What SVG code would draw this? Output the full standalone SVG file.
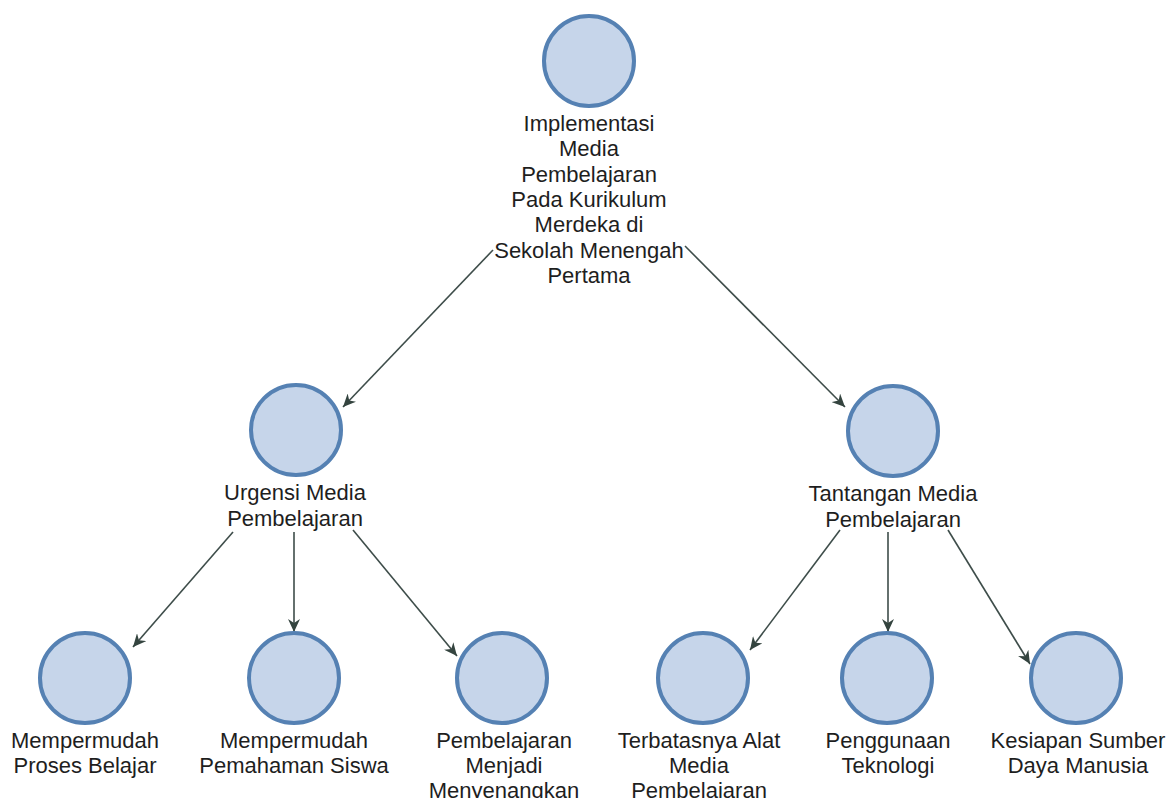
<svg xmlns="http://www.w3.org/2000/svg" width="1168" height="798" viewBox="0 0 1168 798">
<style>
.node circle{fill:#c6d5ea;stroke:#5581b3;stroke-width:4}
.node text{font-family:"Liberation Sans",Arial,sans-serif;font-size:22px;fill:#1e1e1e;text-anchor:middle}
.edge{stroke:#3e4d4a;stroke-width:1.6;fill:none;marker-end:url(#arr)}
</style>
<defs>
<marker id="arr" markerUnits="userSpaceOnUse" markerWidth="14" markerHeight="12" refX="13" refY="6" orient="auto">
<path d="M0,0 L13,6 L0,12 L4,6 z" fill="#34443f"/>
</marker>
</defs>
<rect width="1168" height="798" fill="#ffffff"/>
<g id="connectors">
<line class="edge" x1="493" y1="250" x2="343" y2="407"/>
<line class="edge" x1="685" y1="246" x2="845" y2="407"/>
<line class="edge" x1="233" y1="532" x2="133" y2="647"/>
<line class="edge" x1="294" y1="532" x2="294" y2="632"/>
<line class="edge" x1="353" y1="530" x2="457" y2="656"/>
<line class="edge" x1="840" y1="530" x2="750" y2="650"/>
<line class="edge" x1="888" y1="532" x2="888" y2="632"/>
<line class="edge" x1="948" y1="530" x2="1030" y2="664"/>
</g>
<g id="node-root" class="node">
<circle cx="589" cy="61" r="45"/>
<text x="589" y="131">Implementasi</text>
<text x="589" y="156">Media</text>
<text x="589" y="182">Pembelajaran</text>
<text x="589" y="207">Pada Kurikulum</text>
<text x="589" y="232">Merdeka di</text>
<text x="589" y="258">Sekolah Menengah</text>
<text x="589" y="283">Pertama</text>
</g>
<g id="node-urgensi" class="node">
<circle cx="296" cy="430" r="45"/>
<text x="295" y="500">Urgensi Media</text>
<text x="295" y="526">Pembelajaran</text>
</g>
<g id="node-tantangan" class="node">
<circle cx="893" cy="431" r="45"/>
<text x="893" y="501">Tantangan Media</text>
<text x="893" y="527">Pembelajaran</text>
</g>
<g id="node-proses" class="node">
<circle cx="85" cy="678" r="45"/>
<text x="85" y="748">Mempermudah</text>
<text x="85" y="773">Proses Belajar</text>
</g>
<g id="node-pemahaman" class="node">
<circle cx="294" cy="678" r="45"/>
<text x="294" y="748">Mempermudah</text>
<text x="294" y="773">Pemahaman Siswa</text>
</g>
<g id="node-menyenangkan" class="node">
<circle cx="502" cy="678" r="45"/>
<text x="504" y="748">Pembelajaran</text>
<text x="504" y="773">Menjadi</text>
<text x="504" y="798">Menyenangkan</text>
</g>
<g id="node-terbatas" class="node">
<circle cx="703" cy="678" r="45"/>
<text x="699" y="748">Terbatasnya Alat</text>
<text x="699" y="773">Media</text>
<text x="699" y="798">Pembelajaran</text>
</g>
<g id="node-teknologi" class="node">
<circle cx="887" cy="678" r="45"/>
<text x="888" y="748">Penggunaan</text>
<text x="888" y="773">Teknologi</text>
</g>
<g id="node-sdm" class="node">
<circle cx="1076" cy="678" r="45"/>
<text x="1078" y="748">Kesiapan Sumber</text>
<text x="1078" y="773">Daya Manusia</text>
</g>
</svg>
